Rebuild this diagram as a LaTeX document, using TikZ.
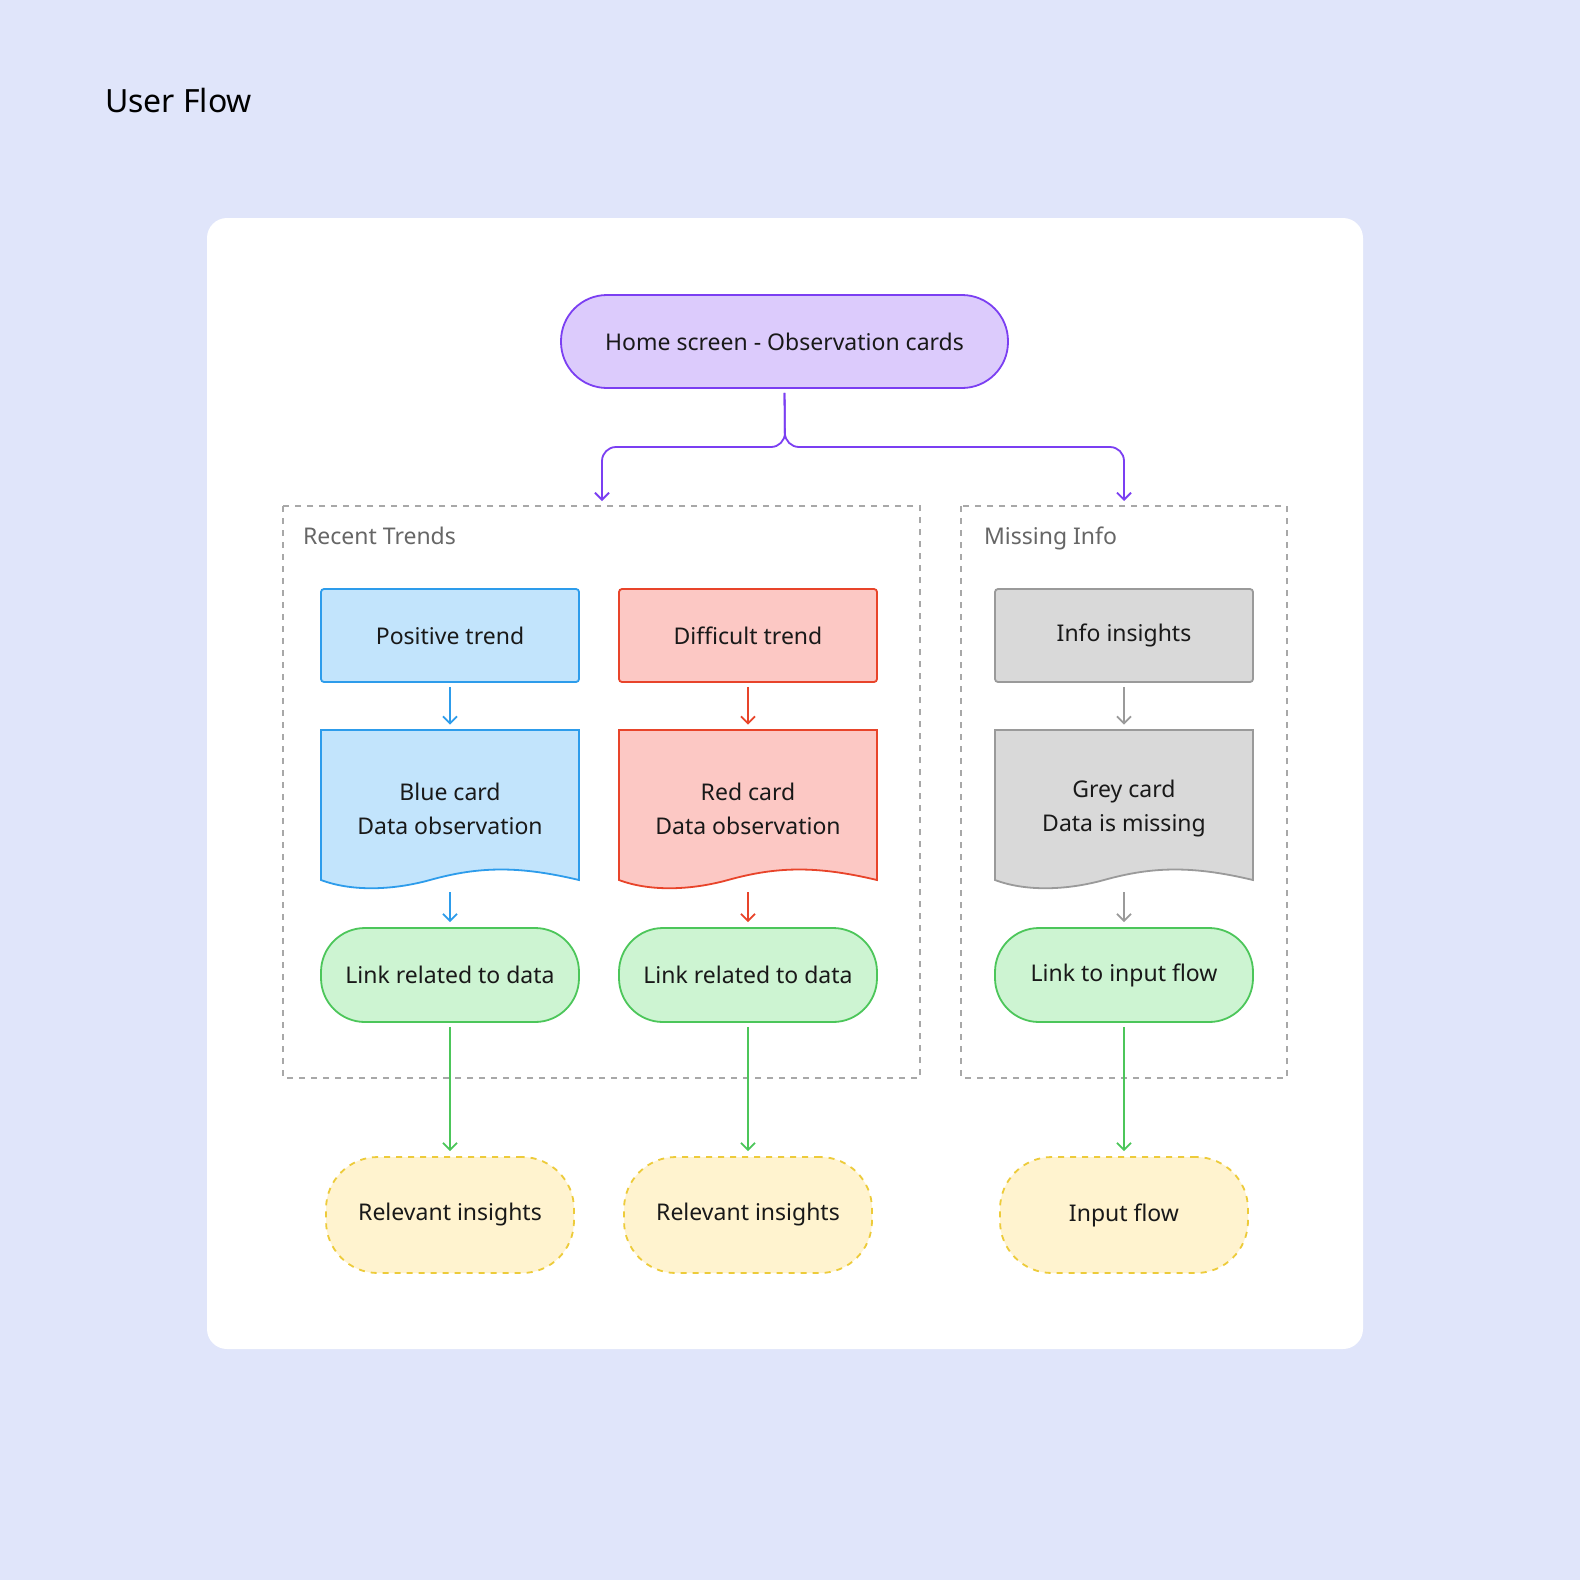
\documentclass[tikz,border=0pt]{standalone}
\usepackage{fontspec}
\setmainfont{Noto Sans}
\usetikzlibrary{arrows.meta}
\definecolor{bg}{HTML}{E0E5FA}
\definecolor{purS}{HTML}{7B3FF2}\definecolor{purF}{HTML}{DCCBFC}
\definecolor{bluS}{HTML}{2D9CEB}\definecolor{bluF}{HTML}{C2E4FC}
\definecolor{redS}{HTML}{E8442A}\definecolor{redF}{HTML}{FCC8C4}
\definecolor{gryS}{HTML}{9A9A9A}\definecolor{gryF}{HTML}{D9D9D9}
\definecolor{grnS}{HTML}{4CC65A}\definecolor{grnF}{HTML}{CDF4D2}
\definecolor{yelS}{HTML}{EDCB3A}\definecolor{yelF}{HTML}{FFF3CF}
\definecolor{grpS}{HTML}{A8A8A8}
\begin{document}
\begin{tikzpicture}[x=0.5pt,y=-0.5pt,
  txt/.style={font=\fontsize{11.5}{17}\selectfont,text=black!90,align=center},
  card/.style={txt,draw,line width=0.9pt,rounded corners=1.5pt,minimum width=129pt,minimum height=46.5pt,inner sep=0},
  pill/.style={txt,draw,line width=0.9pt,rounded corners=22pt,minimum width=129pt,minimum height=47pt,inner sep=0},
  outcome/.style={txt,draw,dashed,line width=0.9pt,rounded corners=26pt,minimum width=124pt,minimum height=58pt,inner sep=0},
  grp/.style={draw=grpS,dashed,line width=0.8pt},
  arr/.style={line width=0.9pt,-{Straight Barb[length=3.5pt,width=7pt]},shorten <=2pt,shorten >=2.5pt},
  docbox/.style={txt,minimum width=129pt,minimum height=79pt,inner sep=0}]
\fill[bg] (0,0) rectangle (1580,1580);
\useasboundingbox (0,0) rectangle (1580,1580);
\fill[white,rounded corners=10pt] (207,218) rectangle (1363,1349);
\node[anchor=west,font=\fontsize{16}{20}\selectfont] (title) at (98,100) {User Flow};

\node[txt,draw=purS,fill=purF,line width=0.9pt,rounded corners=23pt,minimum width=223.5pt,minimum height=46.5pt,inner sep=0] (home) at (784.5,341.5) {Home screen - Observation cards};

\draw[grp] (283,506) rectangle (920,1078);
\draw[grp] (961,506) rectangle (1287,1078);
\coordinate (g1) at (602,506);
\coordinate (g2) at (1124,506);
\node[anchor=west,text=black!60,font=\fontsize{11.5}{14}\selectfont] (l1) at (296,536) {Recent Trends};
\node[anchor=west,text=black!60,font=\fontsize{11.5}{14}\selectfont] (l2) at (977,538) {Missing Info};

\draw[purS,line width=0.9pt,rounded corners=7pt,-{Straight Barb[length=3.5pt,width=7pt]},shorten >=2.5pt,shorten <=2pt] (home.south) -- (785,447) -| (g1);
\draw[purS,line width=0.9pt,rounded corners=7pt,-{Straight Barb[length=3.5pt,width=7pt]},shorten >=2.5pt,shorten <=2pt] (home.south) -- (785,447) -| (g2);

\foreach \x/\S/\F/\top/\dA/\dB/\lk/\ot/\n in {
  450/bluS/bluF/Positive trend/Blue card/Data observation/Link related to data/Relevant insights/a,
  748/redS/redF/Difficult trend/Red card/Data observation/Link related to data/Relevant insights/b,
  1124/gryS/gryF/Info insights/Grey card/Data is missing/Link to input flow/Input flow/c}{
  \node[card,draw=\S,fill=\F] (t\n) at (\x,635.5) {\top};
  \draw[draw=\S,fill=\F,line width=0.9pt] (\x+129,880) .. controls (\x+70,866) and (\x+30,866) .. (\x-20,880) .. controls (\x-60,891) and (\x-100,891) .. (\x-129,880) -- (\x-129,730) -- (\x+129,730) -- cycle;
  \node[docbox] (d\n) at (\x,809) {\dA\\\dB};
  \node[pill,draw=grnS,fill=grnF] (k\n) at (\x,975) {\lk};
  \node[outcome,draw=yelS,fill=yelF] (o\n) at (\x,1215) {\ot};
  \draw[arr,\S] (t\n) -- (d\n);
  \draw[arr,\S] (d\n) -- (k\n);
  \draw[arr,grnS] (k\n) -- (o\n);
}
\end{tikzpicture}
\end{document}
